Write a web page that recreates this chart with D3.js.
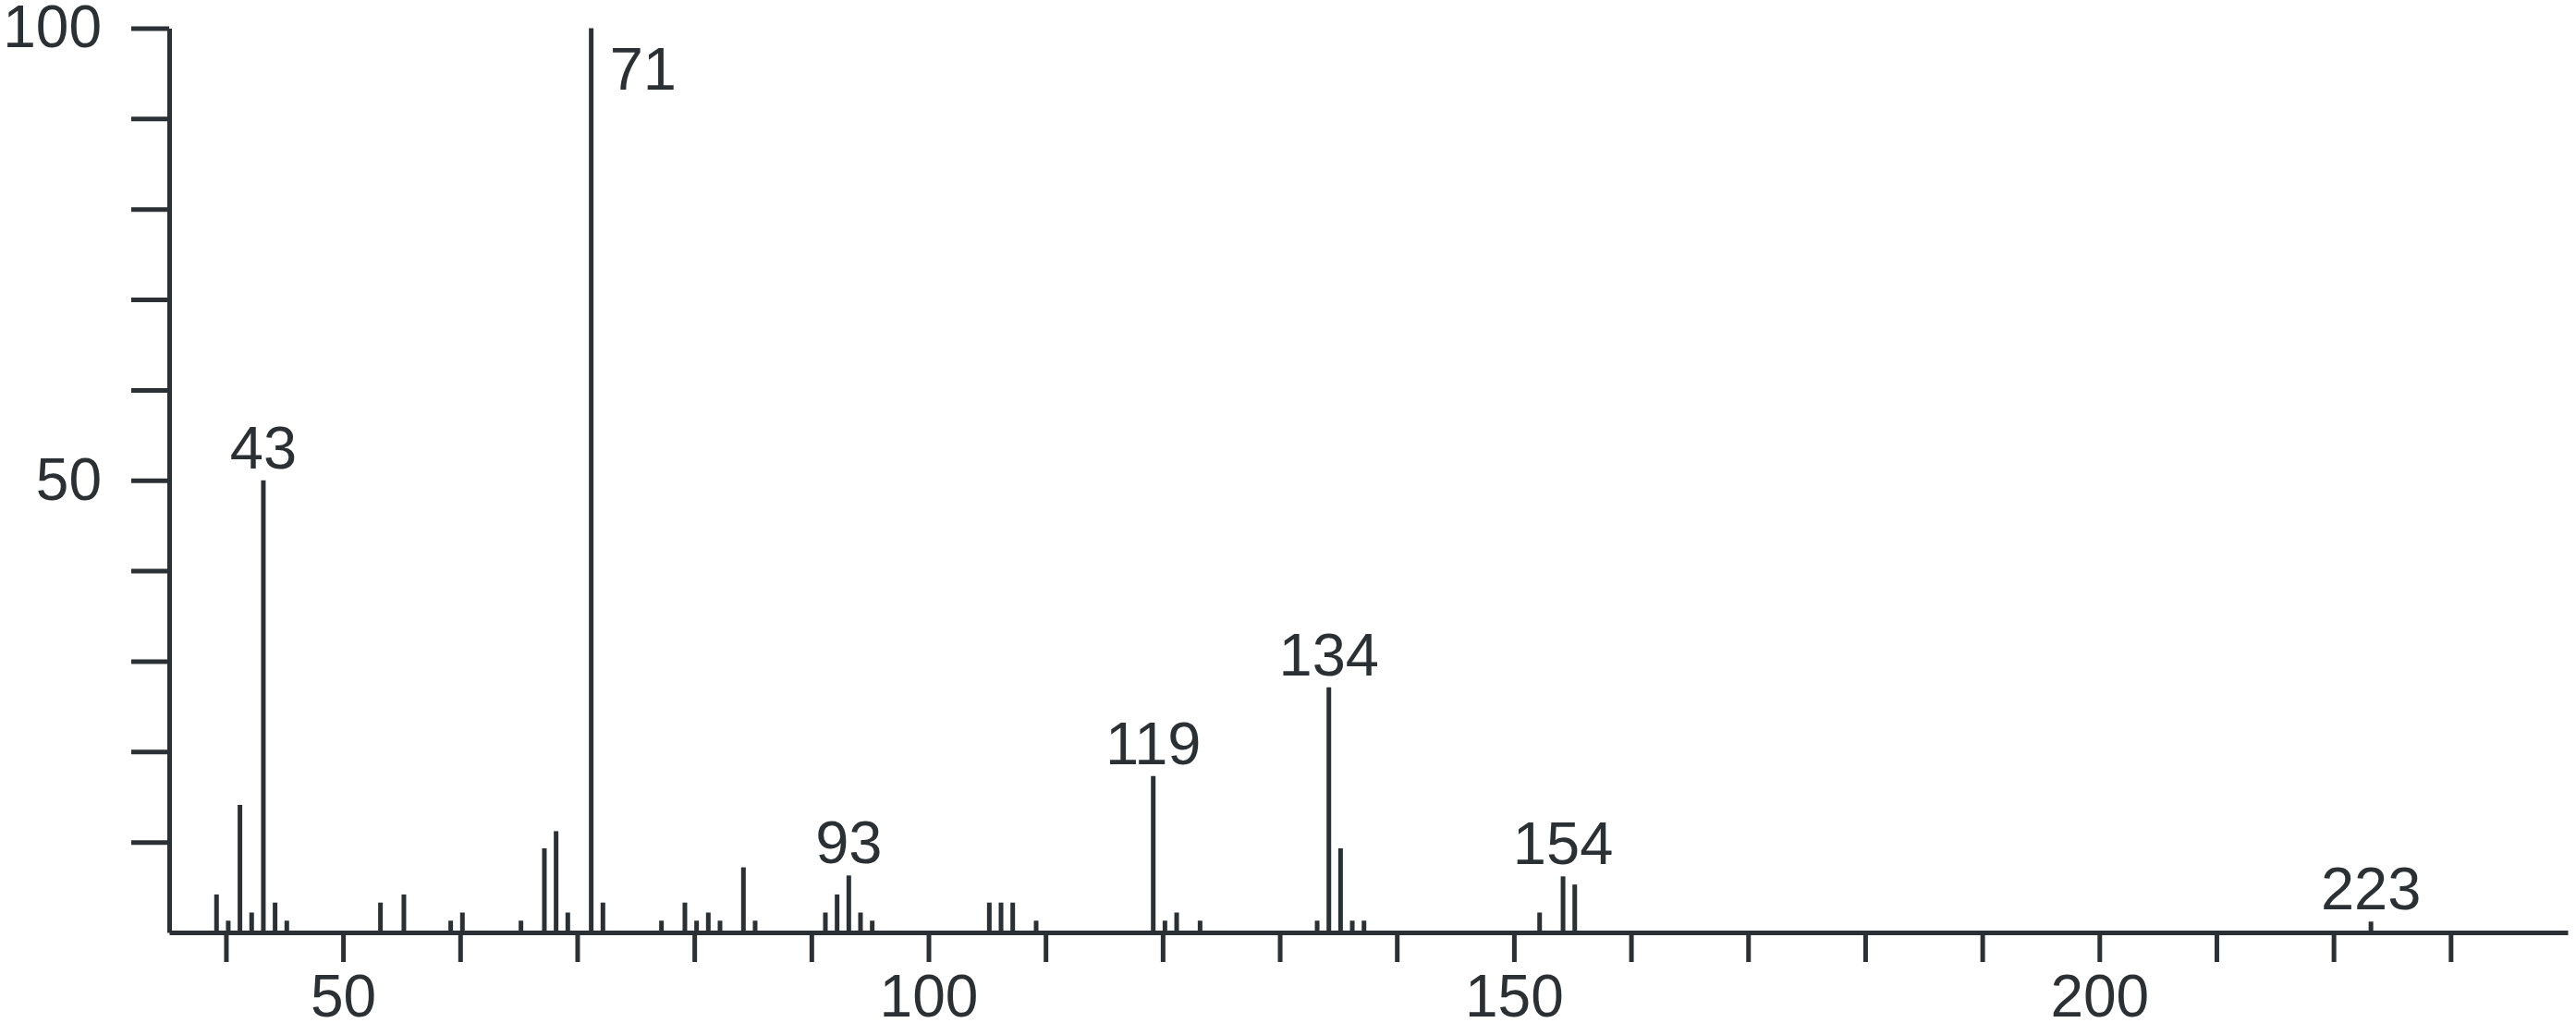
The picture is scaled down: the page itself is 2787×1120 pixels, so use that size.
<!DOCTYPE html>
<html lang="en">
<head>
  <meta charset="UTF-8" />
  <title>Mass spectrum</title>
  <script src="https://d3js.org/d3.v7.min.js"></script>
  <style>
    body { margin:0; padding:0; background:#fff; }
    svg { display:block; }
    .axis path, .axis line { stroke:#2b3034; stroke-width:5px; }
    .axis text { font-family:"Liberation Sans", Arial, sans-serif; font-size:64px; fill:#2b3034; }
    .peak { stroke:#2b3034; stroke-width:5px; }
    .peaklabel { font-family:"Liberation Sans", Arial, sans-serif; font-size:65px; fill:#2b3034; }
  </style>
</head>
<body>
  <svg></svg>
  <script>
  // m/z and relative intensity (%)
  const mz = [39, 40, 41, 42, 43, 44, 45, 53, 55, 59, 60, 65, 67, 68, 69, 71, 72,
              77, 79, 80, 81, 82, 84, 85, 91, 92, 93, 94, 95, 105, 106, 107, 109,
              119, 120, 121, 123, 133, 134, 135, 136, 137, 152, 154, 155, 223];
  const intensity = [4.2, 1.3, 14.1, 2.2, 50, 3.3, 1.3, 3.3, 4.2, 1.3, 2.2, 1.3, 9.3, 11.2, 2.2, 100, 3.3,
                     1.3, 3.3, 1.3, 2.2, 1.3, 7.2, 1.3, 2.2, 4.2, 6.3, 2.2, 1.3, 3.3, 3.3, 3.3, 1.3,
                     17.3, 1.3, 2.2, 1.3, 1.3, 27.1, 9.3, 1.3, 1.3, 2.2, 6.2, 5.3, 1.2];
  // peaks that carry a label
  const labelled = [43, 71, 93, 119, 134, 154, 223];
  const xTicks = d3.range(40, 231, 10);
  const xTickLabels = [50, 100, 150, 200];
  const yTicks = d3.range(10, 101, 10);
  const yTickLabels = [50, 100];

  const W = 2787, H = 1120;
  const svg = d3.select('svg').attr('width', W).attr('height', H);

  const x = d3.scaleLinear().domain([35.15, 240]).range([183, 2778]);
  const y = d3.scaleLinear().domain([0, 100]).range([1009, 30.5]);
  const px = m => x(m) + 2.5; // sticks sit a hair right of the ticks

  // peaks
  const peaks = mz.map((m, i) => ({ mz: m, val: intensity[i] }));
  svg.append('g').selectAll('.peak').data(peaks).enter().append('line')
    .attr('class', 'peak')
    .attr('x1', d => px(d.mz)).attr('x2', d => px(d.mz))
    .attr('y1', y(0)).attr('y2', d => y(d.val));

  // axes
  svg.append('g').attr('class', 'axis')
    .attr('transform', `translate(0,${y(0)})`)
    .call(d3.axisBottom(x).tickValues(xTicks).tickSize(32).tickSizeOuter(0).tickPadding(14)
      .tickFormat(d => xTickLabels.includes(d) ? d : ''));

  svg.append('g').attr('class', 'axis')
    .attr('transform', `translate(${x(35.15)},0)`)
    .call(d3.axisLeft(y).tickValues(yTicks).tickSize(41).tickSizeOuter(0).tickPadding(32)
      .tickFormat(d => yTickLabels.includes(d) ? d : ''));

  // peak labels
  const lab = peaks.filter(d => labelled.includes(d.mz));
  svg.append('g').selectAll('.peaklabel').data(lab).enter().append('text')
    .attr('class', 'peaklabel')
    .attr('text-anchor', d => d.val >= 100 ? 'start' : 'middle')
    .attr('x', d => d.val >= 100 ? px(d.mz) + 20 : px(d.mz))
    .attr('y', d => d.val >= 100 ? y(d.val) + 66 : y(d.val) - 13)
    .text(d => d.mz);
  </script>
</body>
</html>
